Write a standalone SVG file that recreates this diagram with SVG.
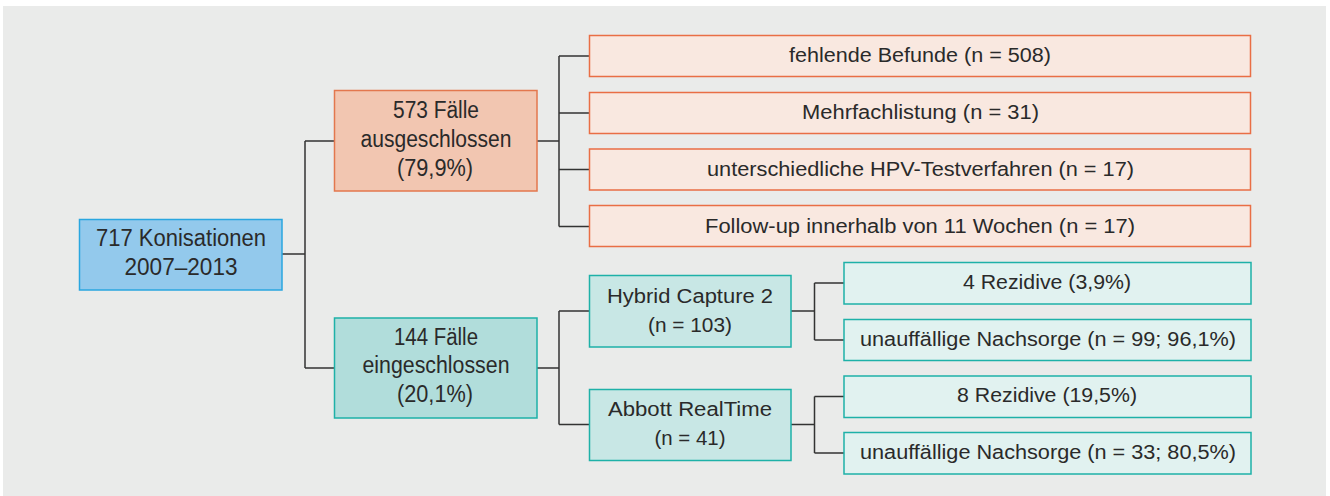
<svg xmlns="http://www.w3.org/2000/svg" width="1330" height="496" viewBox="0 0 1330 496">
<style>
.t{font-family:"Liberation Sans",Arial,sans-serif;fill:#2a2a2a;text-anchor:middle}
.L{font-size:23px}
.S{font-size:19.5px}
.root{fill:#93C9EC;stroke:#2AA6E0;stroke-width:1.5}
.ex{fill:#F2C6B1;stroke:#E3774E;stroke-width:1.5}
.exs{fill:#F9E8E0;stroke:#E96E45;stroke-width:1.5}
.in{fill:#B1DDDB;stroke:#1EB1A8;stroke-width:1.5}
.ins{fill:#C8E7E5;stroke:#1EB1A8;stroke-width:1.5}
.inr{fill:#E1F2F0;stroke:#1EB1A8;stroke-width:1.5}
.c{fill:none;stroke:#333;stroke-width:1.5}
</style>
<rect x="3" y="6" width="1323" height="490" fill="#EAEBEA"/>
<g id="connectors" class="c">
<path d="M282 254H305M305 141V368M305 141H334.5M305 368H334.5"/>
<path d="M537 141H559M559 56V226.5M559 56H589.5M559 113H589.5M559 169.5H589.5M559 226.5H589.5"/>
<path d="M537 368H559M559 311V424.5M559 311H589.5M559 424.5H589.5"/>
<path d="M791 311H814.5M814.5 283V340M814.5 283H844M814.5 340H844"/>
<path d="M791 424.5H814.5M814.5 396.5V453M814.5 396.5H844M814.5 453H844"/>
</g>
<g id="root">
<rect class="root" x="79.5" y="219.5" width="202.5" height="70.5"/>
<text class="t L" x="181" y="246" textLength="170" lengthAdjust="spacingAndGlyphs">717 Konisationen</text>
<text class="t L" x="181" y="275" textLength="113" lengthAdjust="spacingAndGlyphs">2007–2013</text>
</g>
<g id="excluded">
<rect class="ex" x="334.5" y="90.5" width="202.5" height="100.5"/>
<text class="t L" x="436" y="118" textLength="86" lengthAdjust="spacingAndGlyphs">573 Fälle</text>
<text class="t L" x="436" y="147" textLength="151" lengthAdjust="spacingAndGlyphs">ausgeschlossen</text>
<text class="t L" x="435" y="176" textLength="76" lengthAdjust="spacingAndGlyphs">(79,9%)</text>
</g>
<g id="included">
<rect class="in" x="334.5" y="318" width="202.5" height="100"/>
<text class="t L" x="436" y="345" textLength="84" lengthAdjust="spacingAndGlyphs">144 Fälle</text>
<text class="t L" x="436" y="373" textLength="147" lengthAdjust="spacingAndGlyphs">eingeschlossen</text>
<text class="t L" x="435" y="402" textLength="76" lengthAdjust="spacingAndGlyphs">(20,1%)</text>
</g>
<g id="ex1">
<rect class="exs" x="589.5" y="35.5" width="661" height="41"/>
<text class="t S" x="920" y="62" textLength="262" lengthAdjust="spacingAndGlyphs">fehlende Befunde (n = 508)</text>
</g>
<g id="ex2">
<rect class="exs" x="589.5" y="92.5" width="661" height="41"/>
<text class="t S" x="920.5" y="119" textLength="237" lengthAdjust="spacingAndGlyphs">Mehrfachlistung (n = 31)</text>
</g>
<g id="ex3">
<rect class="exs" x="589.5" y="149" width="661" height="41"/>
<text class="t S" x="920.5" y="176" textLength="427" lengthAdjust="spacingAndGlyphs">unterschiedliche HPV-Testverfahren (n = 17)</text>
</g>
<g id="ex4">
<rect class="exs" x="589.5" y="205.5" width="661" height="41"/>
<text class="t S" x="920" y="232.5" textLength="430" lengthAdjust="spacingAndGlyphs">Follow-up innerhalb von 11 Wochen (n = 17)</text>
</g>
<g id="hybrid">
<rect class="ins" x="589.5" y="275.5" width="201.5" height="71.5"/>
<text class="t S" x="690" y="302.5" textLength="166" lengthAdjust="spacingAndGlyphs">Hybrid Capture 2</text>
<text class="t S" x="690" y="331.5" textLength="84" lengthAdjust="spacingAndGlyphs">(n = 103)</text>
</g>
<g id="abbott">
<rect class="ins" x="589.5" y="389.5" width="201.5" height="71"/>
<text class="t S" x="690" y="416" textLength="164" lengthAdjust="spacingAndGlyphs">Abbott RealTime</text>
<text class="t S" x="690" y="445" textLength="71" lengthAdjust="spacingAndGlyphs">(n = 41)</text>
</g>
<g id="hc-rez">
<rect class="inr" x="844" y="262.5" width="407" height="41.5"/>
<text class="t S" x="1047" y="288.5" textLength="168" lengthAdjust="spacingAndGlyphs">4 Rezidive (3,9%)</text>
</g>
<g id="hc-ok">
<rect class="inr" x="844" y="319.5" width="407" height="41"/>
<text class="t S" x="1048" y="345.5" textLength="376" lengthAdjust="spacingAndGlyphs">unauffällige Nachsorge (n = 99; 96,1%)</text>
</g>
<g id="ab-rez">
<rect class="inr" x="844" y="376" width="407" height="41.5"/>
<text class="t S" x="1047" y="401.5" textLength="180" lengthAdjust="spacingAndGlyphs">8 Rezidive (19,5%)</text>
</g>
<g id="ab-ok">
<rect class="inr" x="844" y="432.5" width="407" height="41.5"/>
<text class="t S" x="1048" y="458.5" textLength="376" lengthAdjust="spacingAndGlyphs">unauffällige Nachsorge (n = 33; 80,5%)</text>
</g>
</svg>
